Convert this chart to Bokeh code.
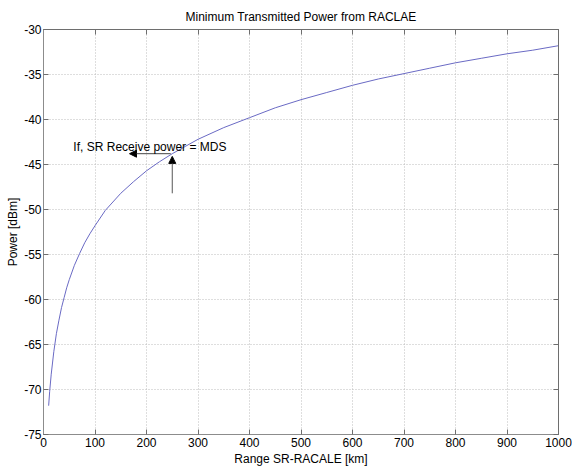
from bokeh.plotting import figure
from bokeh.models import Range1d, LinearAxis, Label, Arrow, NormalHead, FixedTicker
from bokeh.embed import file_html
from bokeh.resources import INLINE

# Data
range_km = [10, 12, 15, 20, 25, 30, 35, 40, 45, 50, 60, 70, 80, 90, 100, 120, 150, 175,
            200, 225, 250, 275, 300, 350, 400, 450, 500, 550, 600, 650, 700, 750, 800,
            850, 900, 950, 1000]
power_dbm = [-71.8, -70.2, -68.3, -65.8, -63.8, -62.3, -60.9, -59.8, -58.7, -57.8, -56.2,
             -54.9, -53.7, -52.7, -51.8, -50.1, -48.2, -46.9, -45.7, -44.7, -43.8, -43.0,
             -42.2, -40.9, -39.8, -38.7, -37.8, -37.0, -36.2, -35.5, -34.9, -34.3, -33.7,
             -33.2, -32.7, -32.3, -31.8]
x_ticks = [0, 100, 200, 300, 400, 500, 600, 700, 800, 900, 1000]
y_ticks = [-75, -70, -65, -60, -55, -50, -45, -40, -35, -30]

title_text = "Minimum Transmitted Power from RACLAE"
x_label = "Range SR-RACALE [km]"
y_label = "Power [dBm]"
note_text = "If, SR Receive power = MDS"

FONT = "Liberation Sans"
FRAME = "#6e6e6e"
AXIS = "#8c8c8c"

p = figure(width=572, height=468, x_range=Range1d(0, 1000), y_range=Range1d(-75, -30),
           output_backend="svg", toolbar_location=None,
           min_border_left=43, min_border_right=14, min_border_top=29, min_border_bottom=34)

p.title.text = title_text
p.title.align = "center"
p.title.text_font = FONT
p.title.text_font_size = "12px"
p.title.text_font_style = "normal"
p.title.text_color = "black"
p.title.standoff = 11

p.outline_line_color = FRAME
p.outline_line_width = 1
p.background_fill_color = "white"
p.border_fill_color = "white"

for ax in (p.xaxis[0], p.yaxis[0]):
    ax.major_label_text_font = FONT
    ax.major_label_text_font_size = "12px"
    ax.major_label_text_color = "black"
    ax.major_tick_in = 5
    ax.major_tick_out = 0
    ax.minor_tick_line_color = None
    ax.axis_line_color = AXIS
    ax.major_tick_line_color = FRAME
    ax.major_label_standoff = 3
    ax.axis_label_text_font = FONT
    ax.axis_label_text_font_size = "12px"
    ax.axis_label_text_font_style = "normal"
    ax.axis_label_text_color = "black"
    ax.axis_label_standoff = 2

p.xaxis[0].ticker = FixedTicker(ticks=x_ticks)
p.yaxis[0].ticker = FixedTicker(ticks=y_ticks)
p.yaxis[0].major_label_overrides = {t: str(t) for t in y_ticks}
p.yaxis[0].major_label_standoff = 2
p.yaxis[0].axis_label_standoff = 1
p.xaxis[0].axis_label = x_label
p.yaxis[0].axis_label = y_label

# top / right tick marks (no labels)
def tick_only_axis(ticks):
    return LinearAxis(ticker=FixedTicker(ticks=ticks), major_label_text_font_size="1px",
                      major_label_text_color=None, major_label_standoff=0,
                      major_tick_in=5, major_tick_out=0, minor_tick_line_color=None,
                      axis_line_color=FRAME, major_tick_line_color=FRAME)

p.add_layout(tick_only_axis(x_ticks), "above")
p.add_layout(tick_only_axis(y_ticks), "right")

p.grid.grid_line_color = "#bdbdbd"
p.grid.grid_line_dash = "1 2"
p.grid.grid_line_width = 1
p.xgrid.ticker = FixedTicker(ticks=x_ticks)
p.ygrid.ticker = FixedTicker(ticks=y_ticks)

p.line(range_km, power_dbm, line_color="#6a6ac4", line_width=1)

# annotation arrows and text
p.add_layout(Arrow(end=NormalHead(size=7, fill_color="black", line_color="black"),
                   x_start=247, y_start=-43.8, x_end=167, y_end=-43.8,
                   line_color="#444444", line_width=1))
p.add_layout(Arrow(end=NormalHead(size=7, fill_color="black", line_color="black"),
                   x_start=250, y_start=-48.2, x_end=250, y_end=-44.1,
                   line_color="#555555", line_width=1))
p.add_layout(Label(x=58, y=-43.0, text=note_text, text_baseline="middle",
                   text_font=FONT, text_font_size="12px", text_color="black"))

open("out.html", "w").write(file_html(p, INLINE))
